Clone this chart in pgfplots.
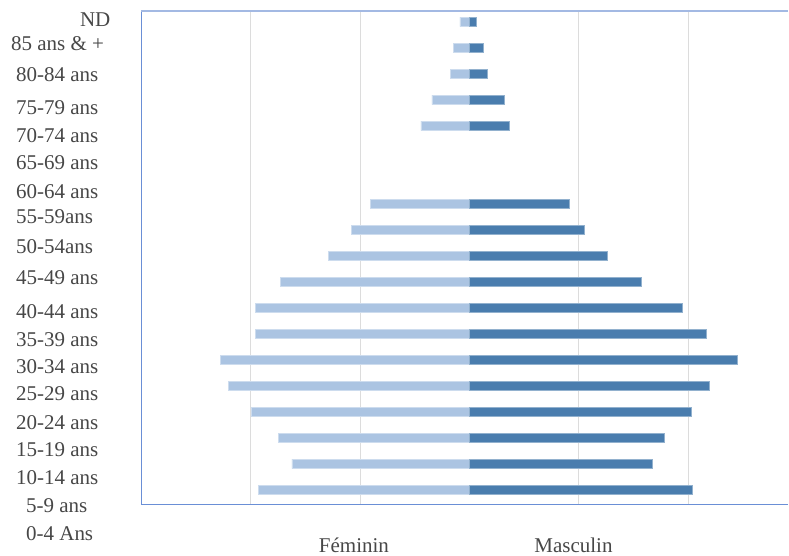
\documentclass[border=0pt]{standalone}
\usepackage{pgfplots}
\usepackage{pgfplotstable}
\pgfplotsset{compat=1.18}
\usepackage{fontspec}
\setmainfont{Liberation Serif}

\definecolor{femcol}{HTML}{ABC4E2}
\definecolor{mascol}{HTML}{4A7DAE}
\definecolor{axisblue}{HTML}{6A8FD6}
\definecolor{axistop}{HTML}{A3B9E3}
\definecolor{gridgray}{HTML}{DCDCDC}
\definecolor{labgray}{HTML}{474747}

% Age groups indexed 0 (bottom) to 18 (ND); slots 12 and 13 have no bars
\pgfplotstableread{
k   fem     mas
0   1.927   2.034
1   1.623   1.668
2   1.747   1.784
3   1.994   2.024
4   2.201   2.192
5   2.277   2.445
6   1.954   2.164
7   1.954   1.942
8   1.726   1.571
9   1.291   1.260
10  1.078   1.047
11  0.910   0.910
14  0.444   0.359
15  0.344   0.313
16  0.174   0.158
17  0.146   0.122
18  0.089   0.061
}\pyramid

\newcommand\labfont{\fontsize{21bp}{25bp}\selectfont}

\begin{document}
\begin{tikzpicture}[x=1bp,y=1bp]
\begin{axis}[
  scale only axis,
  width=647bp, height=493.3bp,
  xmin=-3, xmax=2.913,
  ymin=-0.55, ymax=18.42,
  clip=false,
  axis x line*=bottom,
  axis y line*=left,
  axis line style={draw=axisblue, line width=1.4bp},
  xtick={-2,-1,1,2},
  xticklabels={},
  ytick=\empty,
  major tick length=0pt,
  xmajorgrids,
  grid style={draw=gridgray, line width=1bp},
  xbar, bar shift=0pt, bar width=9.5bp,
]
\addplot[fill=femcol, draw=femcol!60!white, line width=0.6bp]
  table[x expr=-\thisrow{fem}, y=k] {\pyramid};
\addplot[fill=mascol, draw=mascol!60!white, line width=0.6bp]
  table[x=mas, y=k] {\pyramid};

% top frame line
\draw[axistop, line width=1.5bp] (rel axis cs:0,1) -- (rel axis cs:1,1);

% age group labels
\begin{scope}[every node/.style={anchor=west, inner sep=0pt, text=labgray,
    font=\labfont}]
\node at (axis cs:-3.562,18.096) {ND};
\node at (axis cs:-4.192,17.173) {85 ans \& +};
\node at (axis cs:-4.146,15.962) {80-84 ans};
\node at (axis cs:-4.146,14.692) {75-79 ans};
\node at (axis cs:-4.146,13.627) {70-74 ans};
\node at (axis cs:-4.146,12.577) {65-69 ans};
\node at (axis cs:-4.146,11.473) {60-64 ans};
\node at (axis cs:-4.146,10.512) {55-59ans};
\node at (axis cs:-4.146,9.358) {50-54ans};
\node at (axis cs:-4.146,8.154) {45-49 ans};
\node at (axis cs:-4.146,6.858) {40-44 ans};
\node at (axis cs:-4.146,5.796) {35-39 ans};
\node at (axis cs:-4.146,4.742) {30-34 ans};
\node at (axis cs:-4.146,3.692) {25-29 ans};
\node at (axis cs:-4.146,2.604) {20-24 ans};
\node at (axis cs:-4.146,1.538) {15-19 ans};
\node at (axis cs:-4.146,0.488) {10-14 ans};
\node at (axis cs:-4.055,-0.604) {5-9 ans};
\node at (axis cs:-4.055,-1.665) {0-4 Ans};
\end{scope}

% series labels under the axis
\node[anchor=base, inner sep=0pt, text=labgray, font=\labfont]
  at (axis cs:-1.057,-2.412) {Féminin};
\node[anchor=base, inner sep=0pt, text=labgray, font=\labfont]
  at (axis cs:0.950,-2.412) {Masculin};

% page extent
\path (axis cs:-4.292,18.846) rectangle (axis cs:2.913,-2.538);
\end{axis}
\end{tikzpicture}
\end{document}
